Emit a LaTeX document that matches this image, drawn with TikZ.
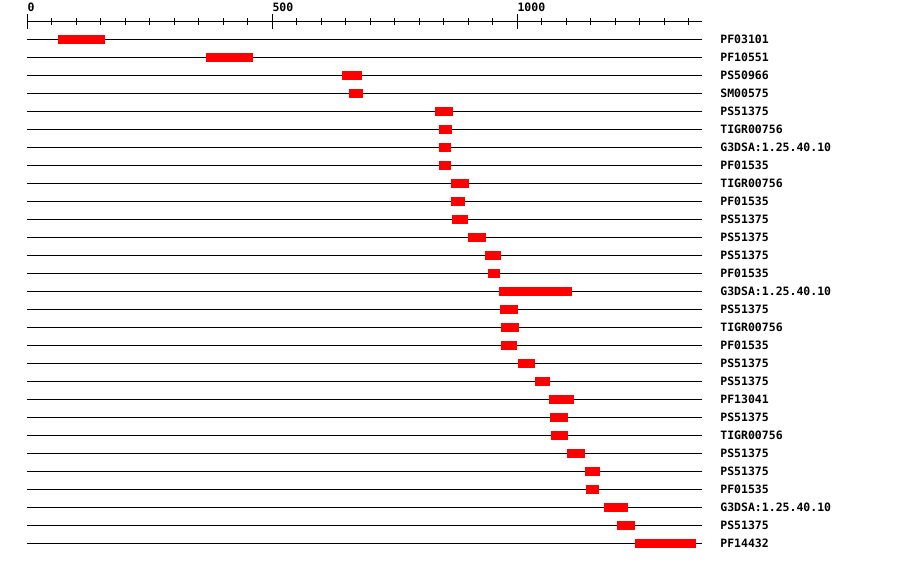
\documentclass[tikz,border=0pt]{standalone}
\usepackage{fontspec}
\setmonofont{DejaVu Sans Mono}
\usetikzlibrary{positioning}
\usepackage{xcolor}

\begin{document}
\begin{tikzpicture}[x=1pt,y=-1pt,line width=1pt,
    font=\ttfamily\bfseries\fontsize{11.5}{12}\selectfont]
  \useasboundingbox (0,0) rectangle (900,562);
  \begin{scope}[shift={(27,0)},xscale=0.49]
    % ruler
    \draw (0,21) -- (1378,21);
    \foreach \t in {50,100,...,1350}
      \draw (\t,17.5) -- (\t,24.5);
    \foreach \t in {0,500,1000} {
      \draw (\t,14) -- (\t,29);
      \node[anchor=base west,inner sep=0pt] (tick\t) at (\t,12) {\t};
    }
    % domain hits
    \foreach \row/\from/\to/\hit in {1/63/159/PF03101,2/365/461/PF10551,
        3/643/684/PS50966,4/657/686/SM00575,5/833/869/PS51375,
        6/841/867/TIGR00756,7/841/865/G3DSA:1.25.40.10,8/841/865/PF01535,
        9/865/902/TIGR00756,10/865/894/PF01535,11/867/900/PS51375,
        12/900/937/PS51375,13/935/967/PS51375,14/941/965/PF01535,
        15/963/1112/G3DSA:1.25.40.10,16/965/1002/PS51375,
        17/967/1004/TIGR00756,18/967/1000/PF01535,19/1002/1037/PS51375,
        20/1037/1067/PS51375,21/1065/1116/PF13041,22/1067/1104/PS51375,
        23/1069/1104/TIGR00756,24/1102/1139/PS51375,25/1139/1169/PS51375,
        26/1141/1167/PF01535,27/1178/1227/G3DSA:1.25.40.10,
        28/1204/1241/PS51375,29/1241/1365/PF14432} {
      \pgfmathsetmacro\y{21+18*\row}
      \draw (0,\y) -- (1378,\y);
      \fill[red] (\from,\y-4.5) rectangle (\to,\y+4.5);
      \node[anchor=base west,inner sep=0pt] (hit\row) at (1414,\y+4) {\hit};
    }
  \end{scope}
\end{tikzpicture}
\end{document}
